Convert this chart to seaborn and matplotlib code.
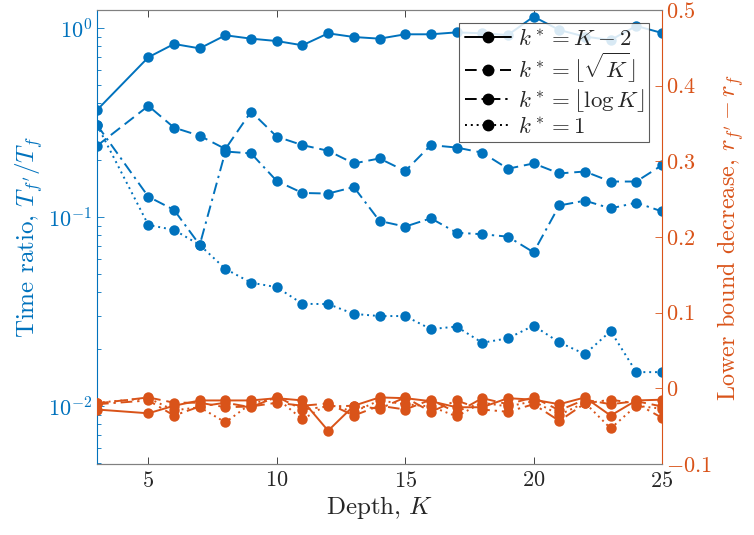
import numpy as np
import pandas as pd
import matplotlib
matplotlib.use("Agg")
import matplotlib.pyplot as plt
from matplotlib.lines import Line2D
from matplotlib.ticker import FuncFormatter, LogLocator
import seaborn as sns

sns.set_style("ticks")
plt.rcParams.update({
    "font.family": "serif",
    "font.serif": ["cmr10", "DejaVu Serif"],
    "mathtext.fontset": "cm",
    "axes.formatter.use_mathtext": True,
    "axes.unicode_minus": False,
})

BLUE = "#0072BD"
ORANGE = "#D95319"

# ---- data -------------------------------------------------------------
depth = [3, 5, 6, 7, 8, 9, 10, 11, 12, 13, 14, 15, 16, 17, 18, 19, 20, 21, 22, 23, 24, 25]

# time ratio T_f'/T_f (left, log axis)
time_km2 = [0.368, 0.700, 0.823, 0.780, 0.915, 0.878, 0.853, 0.810, 0.937, 0.896, 0.878,
            0.926, 0.926, 0.948, 0.937, 0.918, 1.148, 0.976, 0.900, 0.864, 1.025, 0.941]
time_sqrt = [0.238, 0.387, 0.297, 0.269, 0.229, 0.361, 0.266, 0.240, 0.224, 0.192, 0.204,
             0.175, 0.240, 0.233, 0.219, 0.180, 0.192, 0.170, 0.174, 0.154, 0.154, 0.188]
time_log = [0.307, 0.128, 0.109, 0.0711, 0.222, 0.217, 0.155, 0.134, 0.133, 0.144, 0.0953,
            0.0889, 0.0984, 0.0826, 0.0810, 0.0787, 0.0650, 0.115, 0.122, 0.111, 0.119, 0.107]
time_one = [0.307, 0.0907, 0.0854, 0.0711, 0.0531, 0.0449, 0.0425, 0.0347, 0.0346, 0.0307, 0.0299,
            0.0299, 0.0255, 0.0263, 0.0216, 0.0228, 0.0266, 0.0217, 0.0188, 0.0249, 0.0151, 0.0151]

# lower bound decrease r_f' - r_f (right, linear axis)
lb_km2 = [-0.028, -0.033, -0.023, -0.016, -0.016, -0.016, -0.013, -0.016, -0.056, -0.023, -0.012,
          -0.013, -0.017, -0.025, -0.025, -0.013, -0.015, -0.021, -0.012, -0.036, -0.016, -0.015]
lb_sqrt = [-0.020, -0.012, -0.019, -0.019, -0.025, -0.024, -0.019, -0.023, -0.020, -0.036, -0.023,
           -0.028, -0.015, -0.032, -0.013, -0.021, -0.012, -0.029, -0.015, -0.021, -0.017, -0.024]
lb_log = [-0.021, -0.016, -0.036, -0.024, -0.019, -0.025, -0.011, -0.028, -0.024, -0.023, -0.027,
          -0.012, -0.031, -0.016, -0.028, -0.031, -0.021, -0.043, -0.020, -0.015, -0.020, -0.039]
lb_one = [-0.019, -0.013, -0.029, -0.025, -0.045, -0.020, -0.013, -0.041, -0.021, -0.031, -0.016,
          -0.021, -0.024, -0.037, -0.019, -0.024, -0.017, -0.035, -0.019, -0.053, -0.023, -0.027]

labels = [r"$k^* = K-2$", r"$k^* = \lfloor\sqrt{K}\rfloor$",
          r"$k^* = \lfloor\log K\rfloor$", r"$k^* = 1$"]
styles = ["-", (0, (6, 3)), (0, (6, 2.5, 1.2, 2.5)), (0, (1, 2))]

df = pd.DataFrame({"K": depth})
for name, t, r in zip(labels, [time_km2, time_sqrt, time_log, time_one],
                      [lb_km2, lb_sqrt, lb_log, lb_one]):
    df[name + "_t"] = t
    df[name + "_r"] = r

# ---- plot ---------------------------------------------------------------
fig = plt.figure(figsize=(7.54, 5.35), dpi=100)
ax = fig.add_axes([97 / 754, 1 - 464 / 535, (662 - 97) / 754, (464 - 10) / 535])
ax2 = ax.twinx()

line_kw = dict(marker="o", markersize=7.5, linewidth=1.4, markeredgewidth=0)
for name, ls in zip(labels, styles):
    sns.lineplot(data=df, x="K", y=name + "_t", ax=ax, color=BLUE, linestyle=ls,
                 markeredgecolor=BLUE, **line_kw)
    sns.lineplot(data=df, x="K", y=name + "_r", ax=ax2, color=ORANGE, linestyle=ls,
                 markeredgecolor=ORANGE, **line_kw)

ax.set_yscale("log")
ax.set_xlim(3, 25)
ax.set_ylim(0.00493, 1.245)
ax2.set_ylim(-0.1, 0.5)
ax.set_xticks([5, 10, 15, 20, 25])
ax2.set_yticks(np.arange(-0.1, 0.51, 0.1))
ax2.yaxis.set_major_formatter(FuncFormatter(lambda v, p: f"${v:.1f}$".replace("$0.0$", "$0$")
                                            .replace("$-0.0$", "$0$")))
ax.yaxis.set_major_locator(LogLocator(base=10, numticks=10))
ax.yaxis.set_minor_locator(LogLocator(base=10, subs=np.arange(2, 10), numticks=20))

ax.set_xlabel(r"Depth, $K$", fontsize=18, color="#262626", labelpad=2)
ax.set_ylabel(r"Time ratio, $T_{f'}/T_f$", fontsize=18, color=BLUE, labelpad=2)
ax2.set_ylabel(r"Lower bound decrease, $r_{f'} - r_f$", fontsize=17.5, color=ORANGE,
               labelpad=2)

ax.tick_params(axis="x", which="both", direction="in", top=True, labelsize=16,
               colors="#262626", length=5, width=0.6, pad=5)
ax.tick_params(axis="y", which="major", direction="in", labelsize=16, colors=BLUE,
               length=5, width=0.6)
ax.tick_params(axis="y", which="minor", direction="in", colors=BLUE, length=3, width=0.6)
ax2.tick_params(axis="y", which="both", direction="in", labelsize=16, colors=ORANGE,
                length=5, width=0.6, pad=3)

for a in (ax, ax2):
    for s in ("top", "bottom"):
        a.spines[s].set_color("#808080")
        a.spines[s].set_linewidth(0.8)
ax.spines["left"].set_color(BLUE)
ax.spines["left"].set_linewidth(0.8)
ax.spines["right"].set_visible(False)
ax2.spines["left"].set_visible(False)
ax2.spines["right"].set_visible(True)
ax2.spines["right"].set_color(ORANGE)
ax2.spines["right"].set_linewidth(0.8)
ax2.spines["top"].set_visible(True)
ax.spines["top"].set_visible(True)
ax.grid(False)
ax2.grid(False)

handles = [Line2D([], [], color="black", linestyle=ls, marker="o", markersize=7.5,
                  linewidth=1.4) for ls in styles]
leg = ax2.legend(handles, labels, loc="upper right", fontsize=16.5, frameon=True,
                 fancybox=False, framealpha=0.85, edgecolor="#404040",
                 handlelength=2.0, handletextpad=0.3, borderpad=0.25, labelspacing=0.08,
                 borderaxespad=0.55)
leg.get_frame().set_linewidth(0.8)

fig.savefig("out.png", dpi=100)
